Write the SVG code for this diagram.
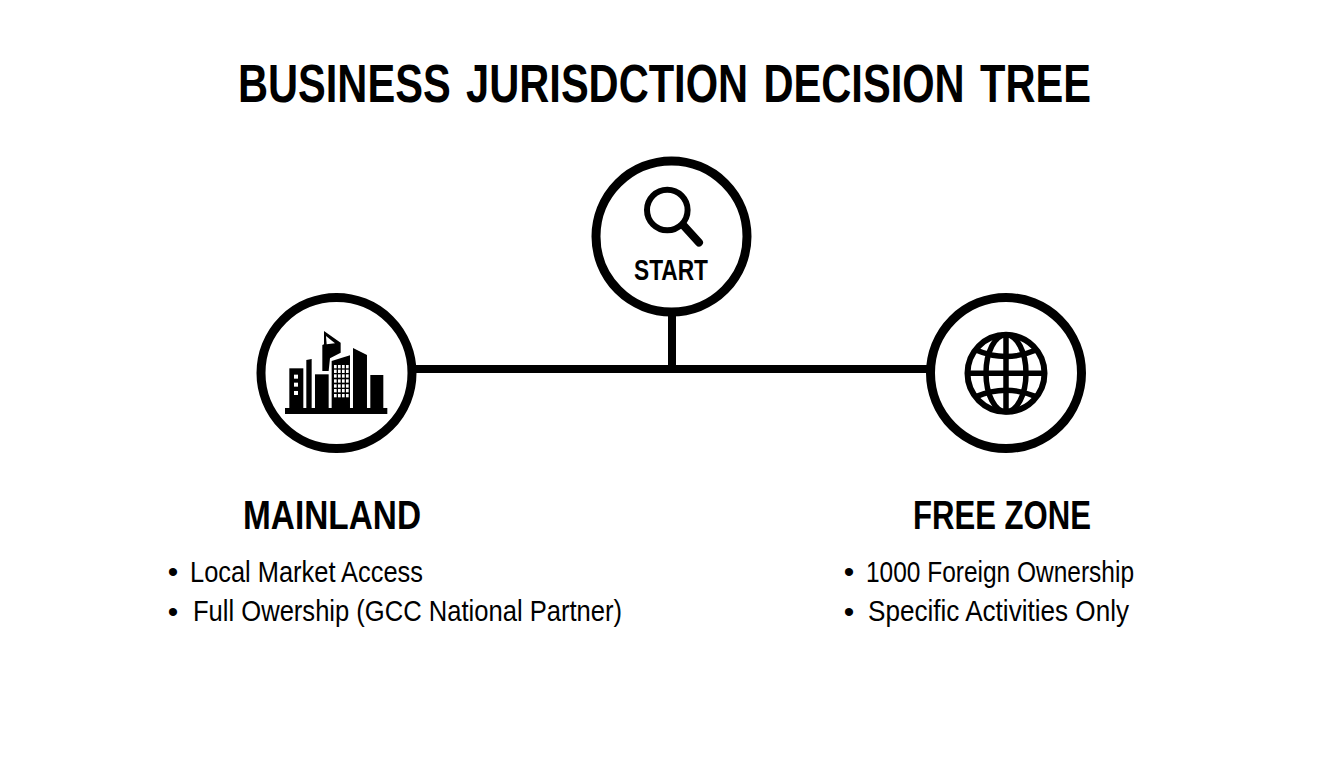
<svg xmlns="http://www.w3.org/2000/svg" width="1344" height="768" viewBox="0 0 1344 768">
<style>
text{font-family:"Liberation Sans",Arial,sans-serif;fill:#000}
.h{font-weight:700}
.title{font-size:53px;word-spacing:5px}
.head{font-size:40px}
.item{font-size:30px}
.ring{fill:#fff;stroke:#000;stroke-width:9}
.conn{fill:none;stroke:#000;stroke-width:8}
.ic{fill:#000}
.w{fill:#fff}
.gl{fill:none;stroke:#000;stroke-width:5.5}
</style>
<rect width="1344" height="768" fill="#fff"/>
<text id="title" class="h title" x="238" y="102" textLength="853" lengthAdjust="spacingAndGlyphs">BUSINESS JURISDCTION DECISION TREE</text>
<g id="connectors">
<path class="conn" d="M416 369H928"/>
<path class="conn" d="M672 314V369"/>
</g>
<g id="start">
<circle class="ring" cx="671.5" cy="236.500" r="75.5"/>
<circle cx="667.3" cy="210" r="20.3" fill="none" stroke="#000" stroke-width="6"/>
<path d="M684 226L699 242.5" fill="none" stroke="#000" stroke-width="8" stroke-linecap="round"/>
<text class="h" x="634" y="279.500" font-size="29" textLength="74" lengthAdjust="spacingAndGlyphs">START</text>
</g>
<g id="mainland">
<circle class="ring" cx="336.500" cy="373" r="75.5"/>
<g transform="translate(250 290) scale(.3333)">
<rect class="ic" x="105" y="354" width="307" height="18"/>
<rect class="ic" x="118" y="235" width="42" height="120"/>
<rect class="w" x="132" y="254" width="12" height="12"/><rect class="w" x="132" y="278" width="12" height="12"/><rect class="w" x="132" y="303" width="12" height="12"/>
<path class="ic" d="M169 210L185 207V355H169Z"/>
<rect class="ic" x="195" y="253" width="41" height="102"/>
<path class="ic" d="M222 123L272 158V188L240 205L236 243H217V165L222 163Z"/>
<path class="w" d="M228 138L255 160L230 163Z"/>
<path class="ic" d="M245 213L300 196V355H245Z"/>
<g class="w">
<rect x="252" y="225" width="8" height="10"/><rect x="264" y="225" width="8" height="10"/><rect x="276" y="225" width="8" height="10"/><rect x="288" y="225" width="8" height="10"/>
<rect x="252" y="239" width="8" height="10"/><rect x="264" y="239" width="8" height="10"/><rect x="276" y="239" width="8" height="10"/><rect x="288" y="239" width="8" height="10"/>
<rect x="252" y="253" width="8" height="10"/><rect x="264" y="253" width="8" height="10"/><rect x="276" y="253" width="8" height="10"/><rect x="288" y="253" width="8" height="10"/>
<rect x="252" y="268" width="8" height="10"/><rect x="264" y="268" width="8" height="10"/><rect x="276" y="268" width="8" height="10"/><rect x="288" y="268" width="8" height="10"/>
<rect x="252" y="283" width="8" height="10"/><rect x="264" y="283" width="8" height="10"/><rect x="276" y="283" width="8" height="10"/><rect x="288" y="283" width="8" height="10"/>
<rect x="252" y="297" width="8" height="10"/><rect x="264" y="297" width="8" height="10"/><rect x="276" y="297" width="8" height="10"/><rect x="288" y="297" width="8" height="10"/>
<rect x="252" y="312" width="8" height="10"/><rect x="264" y="312" width="8" height="10"/><rect x="276" y="312" width="8" height="10"/><rect x="288" y="312" width="8" height="10"/>
</g>
<path class="ic" d="M309 174L351 195V355H309Z"/>
<rect class="ic" x="361" y="255" width="39" height="100"/>
</g>
<text class="h head" x="243" y="529" textLength="178" lengthAdjust="spacingAndGlyphs">MAINLAND</text>
<text class="item" x="173" y="582" text-anchor="middle">•</text>
<text class="item" x="190" y="582" textLength="233" lengthAdjust="spacingAndGlyphs">Local Market Access</text>
<text class="item" x="173" y="622" text-anchor="middle">•</text>
<text class="item" x="193" y="621" textLength="429" lengthAdjust="spacingAndGlyphs">Full Owership (GCC National Partner)</text>
</g>
<g id="free-zone">
<circle class="ring" cx="1006" cy="373" r="75.5"/>
<circle cx="1006" cy="373.3" r="38.5" fill="none" stroke="#000" stroke-width="6"/>
<ellipse class="gl" cx="1006" cy="373.3" rx="20" ry="38.5"/>
<path class="gl" d="M1006 335V412M967 373.3H1045"/>
<path class="gl" d="M976 350Q1006 363 1036 350M976 396.600Q1006 384 1036 396.600"/>
<text class="h head" x="913" y="529" textLength="178" lengthAdjust="spacingAndGlyphs">FREE ZONE</text>
<text class="item" x="849" y="582" text-anchor="middle">•</text>
<text class="item" x="866" y="582" textLength="268" lengthAdjust="spacingAndGlyphs">1000 Foreign Ownership</text>
<text class="item" x="849" y="622" text-anchor="middle">•</text>
<text class="item" x="868" y="621" textLength="261" lengthAdjust="spacingAndGlyphs">Specific Activities Only</text>
</g>
</svg>
